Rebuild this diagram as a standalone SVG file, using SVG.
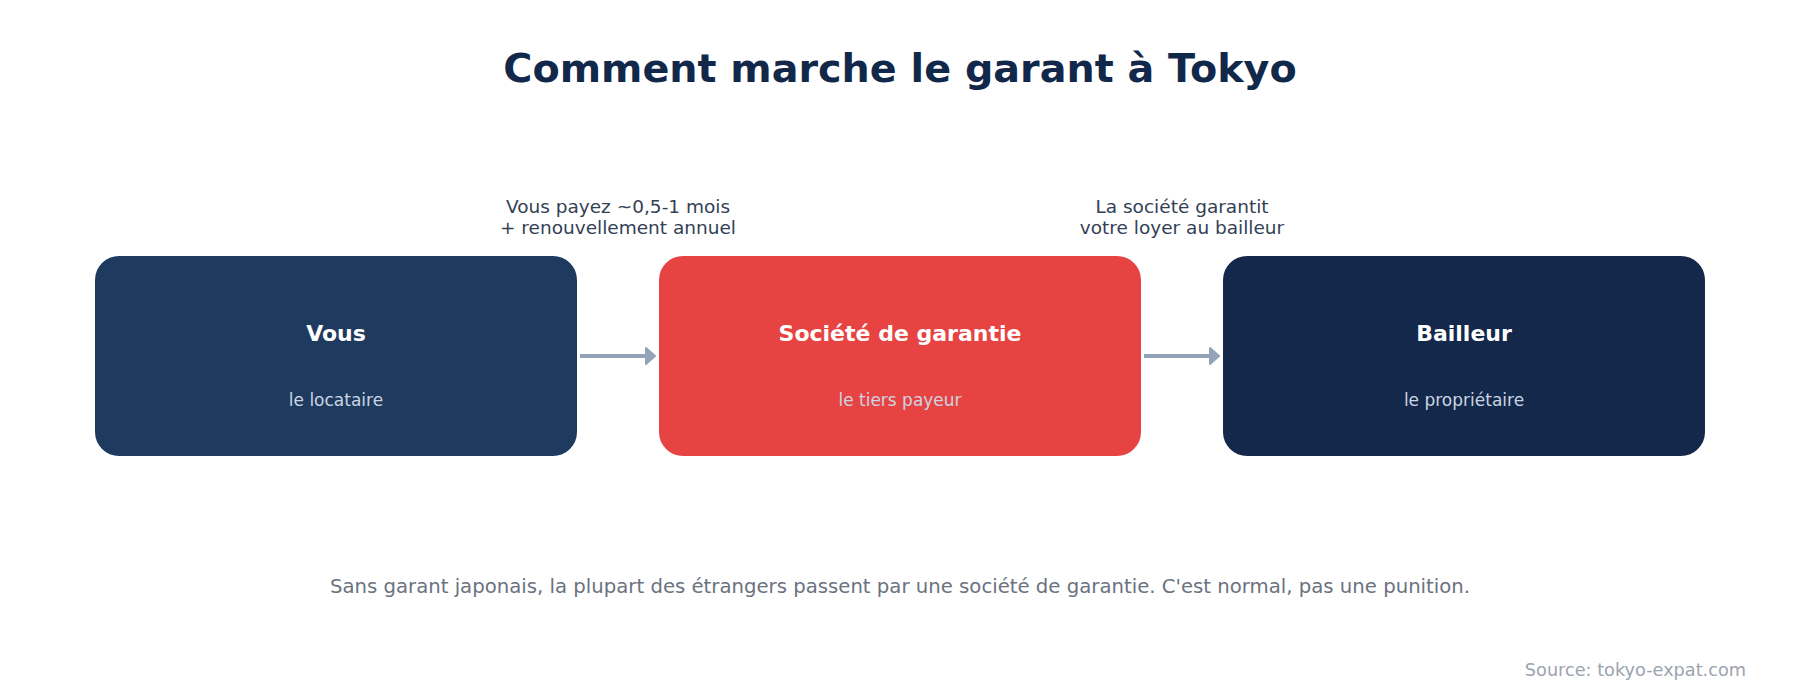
<svg xmlns="http://www.w3.org/2000/svg" width="1800" height="690" viewBox="0 0 1800 690">
  <style>
    text { font-family: "DejaVu Sans", Verdana, sans-serif; }
    .title { font-size: 39.7px; font-weight: bold; fill: #12284a; text-anchor: middle; }
    .box { stroke: none; }
    .nt { font-size: 22px; font-weight: bold; fill: #ffffff; text-anchor: middle; }
    .ns { font-size: 17px; fill: #cbd5e1; text-anchor: middle; }
    .lbl { font-size: 18.5px; fill: #334155; text-anchor: middle; }
    .conn { stroke: #94a3b8; stroke-width: 4; fill: none; }
    .head { fill: #94a3b8; stroke: #94a3b8; stroke-width: 2; stroke-linejoin: round; }
    .foot { font-size: 19.7px; fill: #6b7280; text-anchor: middle; }
    .src { font-size: 17.7px; fill: #9ca3af; text-anchor: end; }
  </style>
  <rect width="1800" height="690" fill="#ffffff"/>
  <text class="title" x="900" y="82">Comment marche le garant à Tokyo</text>

  <g id="connectors">
    <g id="c1">
      <line class="conn" x1="580" y1="356" x2="647" y2="356"/>
      <path class="head" d="M646,348 L655,356 L646,364 Z"/>
      <text class="lbl" x="618" y="212.5">Vous payez ~0,5-1 mois</text>
      <text class="lbl" x="618" y="234">+ renouvellement annuel</text>
    </g>
    <g id="c2">
      <line class="conn" x1="1144" y1="356" x2="1211" y2="356"/>
      <path class="head" d="M1210,348 L1219,356 L1210,364 Z"/>
      <text class="lbl" x="1182" y="212.5">La société garantit</text>
      <text class="lbl" x="1182" y="234">votre loyer au bailleur</text>
    </g>
  </g>

  <g id="node-vous">
    <rect class="box" x="95" y="256" width="482" height="200" rx="24" fill="#1f3a5f"/>
    <text class="nt" x="336" y="341">Vous</text>
    <text class="ns" x="336" y="406">le locataire</text>
  </g>
  <g id="node-societe">
    <rect class="box" x="659" y="256" width="482" height="200" rx="24" fill="#e84343"/>
    <text class="nt" x="900" y="341">Société de garantie</text>
    <text class="ns" x="900" y="406">le tiers payeur</text>
  </g>
  <g id="node-bailleur">
    <rect class="box" x="1223" y="256" width="482" height="200" rx="24" fill="#13284a"/>
    <text class="nt" x="1464" y="341">Bailleur</text>
    <text class="ns" x="1464" y="406">le propriétaire</text>
  </g>

  <text class="foot" x="900" y="593">Sans garant japonais, la plupart des étrangers passent par une société de garantie. C'est normal, pas une punition.</text>
  <text class="src" x="1746" y="676">Source: tokyo-expat.com</text>
</svg>
